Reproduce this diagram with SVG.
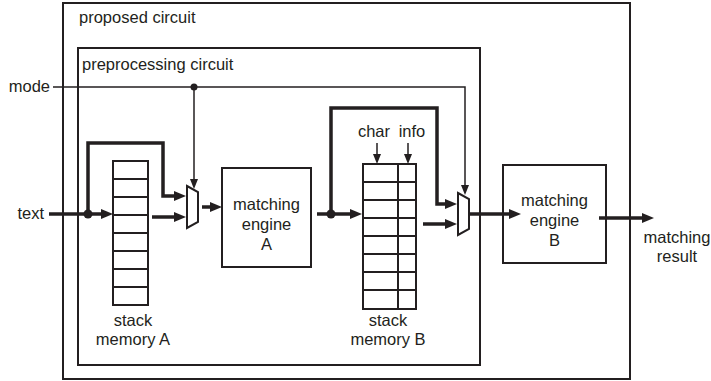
<svg xmlns="http://www.w3.org/2000/svg" width="711" height="381" viewBox="0 0 711 381">
<style>
.box{fill:none;stroke:#231f20;stroke-width:2}
.cell{fill:#fff;stroke:#231f20;stroke-width:2}
.thin{fill:none;stroke:#231f20;stroke-width:1.5}
.thick{fill:none;stroke:#231f20;stroke-width:3.5;stroke-linejoin:miter}
.dot{fill:#231f20}
text{font-family:"Liberation Sans",Arial,sans-serif;font-size:16.5px;fill:#231f20}
.c{text-anchor:middle}
</style>
<defs>
<marker id="ah" markerUnits="userSpaceOnUse" markerWidth="12" markerHeight="10" refX="1" refY="5" orient="auto" viewBox="0 0 12 10">
<path d="M0,0 L12,5 L0,10 z" fill="#231f20"/>
</marker>
<marker id="ahs" markerUnits="userSpaceOnUse" markerWidth="10" markerHeight="8" refX="1" refY="4" orient="auto" viewBox="0 0 10 8">
<path d="M0,0 L10,4 L0,8 z" fill="#231f20"/>
</marker>
</defs>
<rect width="711" height="381" fill="#fff"/>

<g id="proposed-circuit">
<rect class="box" x="63" y="3" width="567" height="376"/>
<text x="79" y="23">proposed circuit</text>
</g>

<g id="preprocessing-circuit">
<rect class="box" x="78" y="48" width="402" height="317"/>
<text x="82" y="70">preprocessing circuit</text>
</g>

<g id="stack-memory-a">
<rect class="cell" x="113" y="161" width="35" height="144"/>
<path class="box" d="M113,179H148M113,197H148M113,215H148M113,233H148M113,251H148M113,269H148M113,287H148"/>
<text class="c" x="133" y="326">stack</text>
<text class="c" x="133" y="345">memory A</text>
</g>

<g id="mux-a">
<polygon class="cell" points="187,186 198,192 198,222 187,228"/>
</g>

<g id="matching-engine-a">
<rect class="box" x="222" y="168" width="89" height="99"/>
<text class="c" x="266.5" y="210">matching</text>
<text class="c" x="266.5" y="230">engine</text>
<text class="c" x="266.5" y="250">A</text>
</g>

<g id="stack-memory-b">
<rect class="cell" x="363" y="164" width="53" height="145"/>
<path class="box" d="M398,164V309M363,182H416M363,200H416M363,218H416M363,236H416M363,254H416M363,272H416M363,290H416"/>
<text class="c" x="388" y="326">stack</text>
<text class="c" x="388" y="345">memory B</text>
<text class="c" x="374" y="137">char</text>
<text class="c" x="412" y="137">info</text>
</g>

<g id="mux-b">
<polygon class="cell" points="458,193 469,199 469,229 458,235"/>
</g>

<g id="matching-engine-b">
<rect class="box" x="503" y="165" width="103" height="98"/>
<text class="c" x="554.5" y="206">matching</text>
<text class="c" x="554.5" y="226">engine</text>
<text class="c" x="554.5" y="246">B</text>
</g>

<g id="labels">
<text x="50" y="92" text-anchor="end">mode</text>
<text x="44" y="219" text-anchor="end">text</text>
<text class="c" x="677" y="243">matching</text>
<text class="c" x="677" y="262">result</text>
</g>

<g id="connectors">
<path class="thin" d="M53,87H465V186" marker-end="url(#ahs)"/>
<path class="thin" d="M194,87V180" marker-end="url(#ahs)"/>
<path class="thin" d="M377,143V155" marker-end="url(#ahs)"/>
<path class="thin" d="M408,143V155" marker-end="url(#ahs)"/>
<path class="thick" d="M49,214H102" marker-end="url(#ah)"/>
<path class="thick" d="M88,214V143H163V196H175" marker-end="url(#ah)"/>
<path class="thick" d="M152,217H175" marker-end="url(#ah)"/>
<path class="thick" d="M202,207H211" marker-end="url(#ah)"/>
<path class="thick" d="M317,214H351" marker-end="url(#ah)"/>
<path class="thick" d="M331,214V108H437V204H446" marker-end="url(#ah)"/>
<path class="thick" d="M423,224H446" marker-end="url(#ah)"/>
<path class="thick" d="M470,214H510" marker-end="url(#ah)"/>
<path class="thick" d="M599,218H643" marker-end="url(#ah)"/>
<circle class="dot" cx="194" cy="87" r="3.5"/>
<circle class="dot" cx="88" cy="214" r="4.5"/>
<circle class="dot" cx="331" cy="214" r="4.5"/>
</g>
</svg>
